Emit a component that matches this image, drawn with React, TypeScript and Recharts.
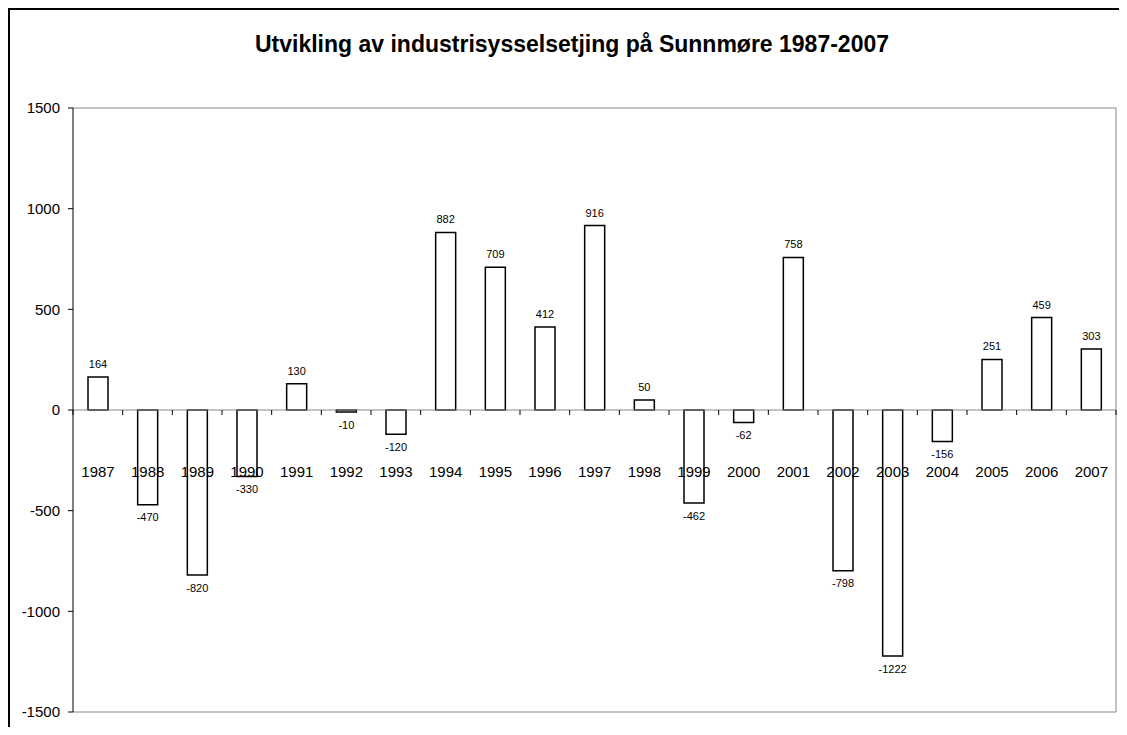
import { BarChart, Bar, XAxis, YAxis, CartesianGrid, ReferenceLine, LabelList } from "recharts";

const years = ["1987", "1988", "1989", "1990", "1991", "1992", "1993", "1994", "1995", "1996", "1997", "1998", "1999", "2000", "2001", "2002", "2003", "2004", "2005", "2006", "2007"];
const change = [164, -470, -820, -330, 130, -10, -120, 882, 709, 412, 916, 50, -462, -62, 758, -798, -1222, -156, 251, 459, 303];
const yTicks = [-1500, -1000, -500, 0, 500, 1000, 1500];

const TITLE = "Utvikling av industrisysselsetjing på Sunnmøre 1987-2007";
const FONT = "'Liberation Sans', Arial, sans-serif";

const W = 1109;
const H = 717;
const MARGIN = { top: 98, right: 3, bottom: 14, left: 8 };
const X_AXIS_H = 1;
const Y_MIN = yTicks[0];
const Y_MAX = yTicks[yTicks.length - 1];

const plotW = W - MARGIN.left - 55 - MARGIN.right;
const plotH = H - MARGIN.top - MARGIN.bottom - X_AXIS_H;
const zeroY = MARGIN.top + (plotH * Y_MAX) / (Y_MAX - Y_MIN);
const step = plotW / years.length;

const data = years.map((year, i) => ({ year, value: change[i] }));

// small tick marks on the zero line, between categories
function BoundaryTick(props: any) {
  const { x, index } = props;
  const last = index === years.length - 1;
  return (
    <g>
      <line x1={x - step / 2} x2={x - step / 2} y1={zeroY} y2={zeroY + 5} stroke="#000" />
      {last && <line x1={x + step / 2} x2={x + step / 2} y1={zeroY} y2={zeroY + 5} stroke="#000" />}
    </g>
  );
}

// year labels drawn after the bars so they sit on top, as in the original
function YearLabel(props: any) {
  const { x, width, value } = props;
  return (
    <text x={x + width / 2} y={zeroY + 67} textAnchor="middle" fontSize={15} fill="#000" fontFamily={FONT}>
      {value}
    </text>
  );
}

export default function App() {
  return (
    <div
      style={{
        position: "relative",
        width: 1111,
        height: 719,
        borderLeft: "2px solid #000",
        borderTop: "2px solid #000",
        boxSizing: "border-box",
        fontFamily: FONT,
        background: "#fff",
      }}
    >
      <div
        style={{
          position: "absolute",
          left: 0,
          top: 21,
          width: 1124,
          textAlign: "center",
          fontSize: 23,
          fontWeight: "bold",
          color: "#000",
        }}
      >
        {TITLE}
      </div>
      <BarChart width={W} height={H} data={data} margin={MARGIN}>
        <CartesianGrid
          stroke="#888"
          horizontalCoordinatesGenerator={({ offset }: any) => [offset.top, offset.top + offset.height]}
          verticalCoordinatesGenerator={({ offset }: any) => [offset.left + offset.width]}
        />
        <XAxis
          dataKey="year"
          height={X_AXIS_H}
          axisLine={false}
          tickLine={false}
          tick={<BoundaryTick />}
          interval={0}
        />
        <YAxis
          width={55}
          domain={[Y_MIN, Y_MAX]}
          ticks={yTicks}
          interval={0}
          tickSize={5}
          tickMargin={8}
          stroke="#000"
          tick={{ fill: "#000", fontSize: 15, fontFamily: FONT }}
          axisLine={{ stroke: "#000" }}
          tickLine={{ stroke: "#000" }}
        />
        <ReferenceLine y={0} stroke="#888" />
        <Bar dataKey="value" fill="#fff" stroke="#000" strokeWidth={1.5} barSize={20} isAnimationActive={false}>
          <LabelList dataKey="value" position="top" offset={9} fontSize={11} fill="#000" fontFamily={FONT} />
          <LabelList dataKey="year" content={<YearLabel />} />
        </Bar>
      </BarChart>
    </div>
  );
}
